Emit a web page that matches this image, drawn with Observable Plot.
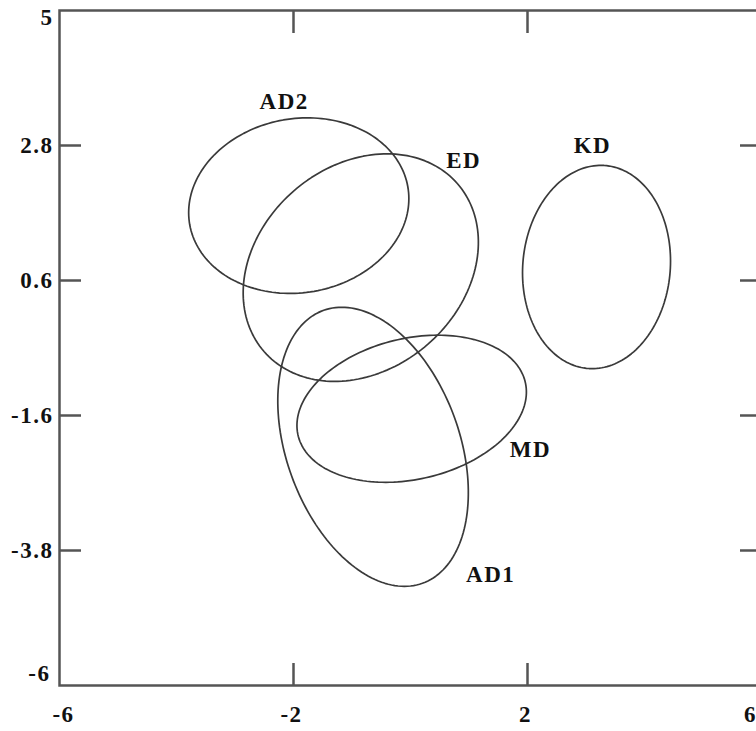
<!DOCTYPE html>
<html><head><meta charset="utf-8">
<script src="https://cdn.jsdelivr.net/npm/d3@7"></script>
<script src="https://cdn.jsdelivr.net/npm/@observablehq/plot@0.6"></script>
<style>
html,body{margin:0;padding:0;background:#fff;overflow:hidden;}
svg text{letter-spacing:1.5px;}
</style></head><body><div id="chart"></div>
<script>
// Ellipse groups (centre, semi-axes and tilt in data units / degrees)
const groups    = ["AD2", "ED", "KD", "MD", "AD1"];
const centerX   = [-1.91, -0.85, 3.18, 0.02, -0.64];
const centerY   = [1.82, 0.81, 0.82, -1.49, -2.11];
const semiMajor = [1.89, 2.15, 1.66, 1.99, 2.38];
const semiMinor = [1.42, 1.69, 1.26, 1.15, 1.47];
const tiltDeg   = [8, 35, 84, 12, -68];
// Label positions
const labelX = [-2.16, 0.91, 3.11, 2.05, 1.37];
const labelY = [3.52, 2.56, 2.80, -2.16, -4.20];
// Axis ticks
const yTicks = [2.8, 0.6, -1.6, -3.8];
const xTicks = [-2, 2];
const xLabelsInner = [-2, 2];
const xLabelLeft = [-6];
const xLabelRight = [6];
const yTop = [5];
const yBottom = [-6];

const N = 180;
const pts = [];
groups.forEach((g, i) => {
  const th = tiltDeg[i] * Math.PI / 180;
  const a = semiMajor[i], b = semiMinor[i];
  for (let k = 0; k < N; k++) {
    const t = 2 * Math.PI * k / N;
    pts.push({
      g,
      x: centerX[i] + a * Math.cos(th) * Math.cos(t) - b * Math.sin(th) * Math.sin(t),
      y: centerY[i] + a * Math.sin(th) * Math.cos(t) + b * Math.cos(th) * Math.sin(t)
    });
  }
});

const tickStyle = {stroke: "#555", strokeWidth: 2.5, text: null, tickSize: -22};
const fmt = d => String(d);

const chart = Plot.plot({
  width: 771, height: 731,
  marginLeft: 59, marginTop: 10, marginRight: 10, marginBottom: 46,
  x: {domain: [-6, 6], label: null},
  y: {domain: [-6, 5], label: null},
  style: {fontFamily: "'Liberation Serif', 'Times New Roman', serif", fontSize: "23px", fontWeight: "bold", color: "#111", background: "#fff", maxWidth: "none"},
  marks: [
    Plot.line(pts, {x: "x", y: "y", z: "g", curve: "linear-closed", stroke: "#3a3a3a", strokeWidth: 1.7}),
    Plot.frame({stroke: "#555", strokeWidth: 2.5}),
    Plot.axisY(yTicks, {anchor: "left", ...tickStyle}),
    Plot.axisY(yTicks, {anchor: "right", ...tickStyle}),
    Plot.axisX(xTicks, {anchor: "bottom", ...tickStyle}),
    Plot.axisX(xTicks, {anchor: "top", ...tickStyle}),
    Plot.axisY(yTicks, {anchor: "left", tickSize: 0, tickPadding: 6, tickFormat: fmt}),
    Plot.axisY(yTop, {anchor: "left", tickSize: 0, tickPadding: 6, dy: 7, tickFormat: fmt}),
    Plot.axisY(yBottom, {anchor: "left", tickSize: 0, tickPadding: 9, dy: -12, tickFormat: fmt}),
    Plot.axisX(xLabelsInner, {anchor: "bottom", tickSize: 0, tickPadding: 20, dx: -2, tickFormat: fmt}),
    Plot.axisX(xLabelLeft, {anchor: "bottom", tickSize: 0, tickPadding: 20, dx: 4, tickFormat: fmt}),
    Plot.axisX(xLabelRight, {anchor: "bottom", tickSize: 0, tickPadding: 20, dx: -11, tickFormat: fmt}),
    Plot.text(groups, {x: labelX, y: labelY, text: d => d, fill: "#111", fontSize: 23, fontWeight: "bold"})
  ]
});
document.getElementById("chart").appendChild(chart);
</script>
</body></html>
